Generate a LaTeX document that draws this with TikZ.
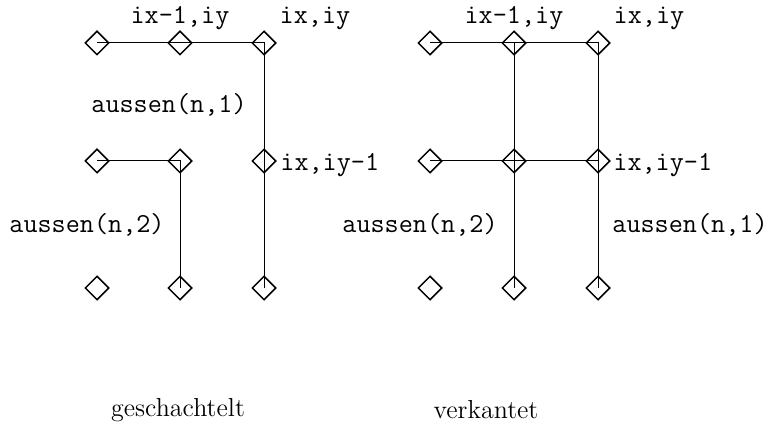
\documentclass[tikz,border=0pt]{standalone}
\usetikzlibrary{shapes.geometric}
\begin{document}
\begin{tikzpicture}[x=0.5pt,y=-0.5pt,
  pt/.style={diamond,draw,line width=0.75pt,inner sep=0pt,minimum width=12pt,minimum height=12pt},
  lbl/.style={font=\fontsize{13.7}{16}\selectfont\ttfamily,inner sep=0pt},
  caption/.style={font=\fontsize{13}{15}\selectfont,inner sep=0pt},
  link/.style={line width=0.5pt}]
\useasboundingbox (0,0) rectangle (765,427);
% geschachtelt
\foreach \c/\x in {a/97,b/180,c/264}{
  \foreach \r/\y in {1/43,2/161,3/288}{
    \node[pt] (L\c\r) at (\x,\y) {};
  }
}
\draw[link] (La1.center) -- (Lc1.center) -- (Lc3.center);
\draw[link] (La2.center) -- (Lb2.center) -- (Lb3.center);
\node[lbl] (l1) at (180,18) {ix-1,iy};
\node[lbl] (l2) at (315,18) {ix,iy};
\node[lbl] (l3) at (169,105) {aussen(n,1)};
\node[lbl,anchor=west] (l4) at (280,165) {ix,iy-1};
\node[lbl] (l5) at (87,225) {aussen(n,2)};
\node[caption] (l6) at (178,410) {geschachtelt};
% verkantet
\foreach \c/\x in {a/430,b/514,c/598}{
  \foreach \r/\y in {1/43,2/161,3/288}{
    \node[pt] (R\c\r) at (\x,\y) {};
  }
}
\draw[link] (Ra1.center) -- (Rc1.center) -- (Rc3.center);
\draw[link] (Rb1.center) -- (Rb3.center);
\draw[link] (Ra2.center) -- (Rc2.center);
\node[lbl] (r1) at (514,18) {ix-1,iy};
\node[lbl] (r2) at (649,18) {ix,iy};
\node[lbl,anchor=west] (r4) at (613,165) {ix,iy-1};
\node[lbl] (r5) at (420,225) {aussen(n,2)};
\node[lbl] (r3) at (690,225) {aussen(n,1)};
\node[caption] (r6) at (486,410) {verkantet};
\end{tikzpicture}
\end{document}
